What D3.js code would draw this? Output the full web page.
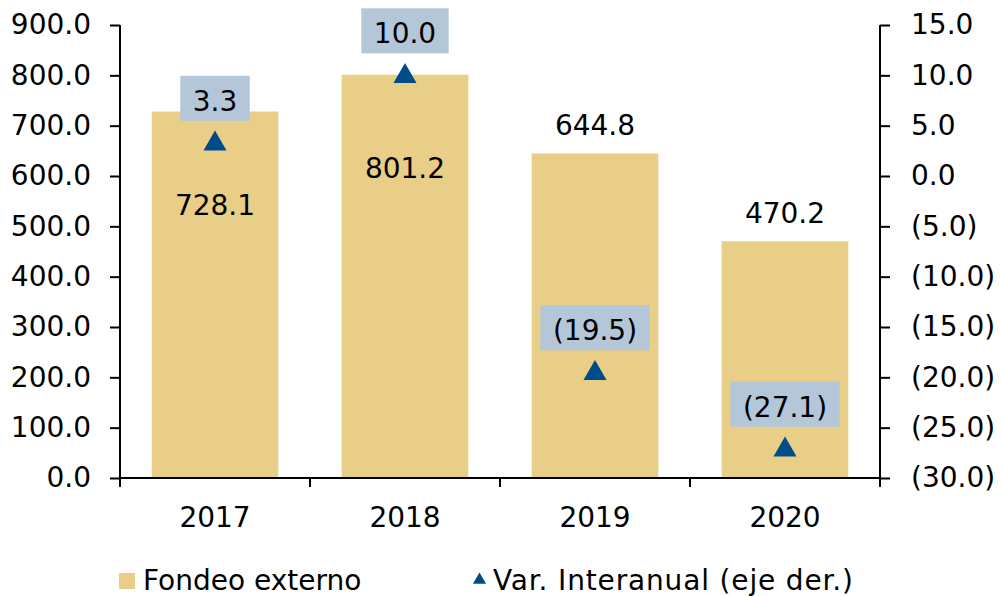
<!DOCTYPE html>
<html lang="es">
<head>
    <meta charset="UTF-8">
    <title>Fondeo externo</title>
    <script src="https://d3js.org/d3.v7.min.js"></script>
    <style>
        body { margin: 0; background: #fff; }
        text { font-family: "DejaVu Sans", Verdana, sans-serif; fill: #000; }
    </style>
</head>
<body>
<script>
    // data
    const years = ["2017", "2018", "2019", "2020"]
    const fondeoExterno = [728.1, 801.2, 644.8, 470.2]
    const varInteranual = [3.3, 10.0, -19.5, -27.1]
    const leftTicks = [0, 100, 200, 300, 400, 500, 600, 700, 800, 900]
    const rightTicks = [-30, -25, -20, -15, -10, -5, 0, 5, 10, 15]
    const legendLabels = ["Fondeo externo", "Var. Interanual (eje der.)"]

    const barColor = "#e8ce87"
    const markerColor = "#004c88"
    const boxColor = "#b3c7d9"
    const fontSize = 28

    const width = 1002
    const height = 596
    const plotLeft = 120, plotRight = 880, plotTop = 25, plotBottom = 478

    const svg = d3.select("body")
        .append("svg")
        .attr("width", width)
        .attr("height", height)

    const x = d3.scaleBand()
        .domain(years)
        .range([plotLeft, plotRight])
        .paddingInner(1 / 3)
        .paddingOuter(1 / 6)

    const yLeft = d3.scaleLinear()
        .domain([0, 900])
        .range([plotBottom, plotTop])

    const yRight = d3.scaleLinear()
        .domain([-30, 15])
        .range([plotBottom, plotTop])

    const fmt = d3.format(".1f")
    const fmtParen = d => d < 0 ? "(" + fmt(Math.abs(d)) + ")" : fmt(d)

    // bars
    svg.selectAll("rect.bar")
        .data(fondeoExterno)
        .enter()
        .append("rect")
        .attr("class", "bar")
        .attr("x", (d, i) => x(years[i]))
        .attr("y", d => yLeft(d))
        .attr("width", x.bandwidth())
        .attr("height", d => plotBottom - yLeft(d))
        .attr("fill", barColor)

    // axes
    const leftAxis = svg.append("g")
        .attr("transform", `translate(${plotLeft}, 0)`)
        .call(d3.axisLeft(yLeft).tickValues(leftTicks).tickSize(10).tickPadding(19).tickFormat(fmt))

    const rightAxis = svg.append("g")
        .attr("transform", `translate(${plotRight}, 0)`)
        .call(d3.axisRight(yRight).tickValues(rightTicks).tickSize(10).tickPadding(21).tickFormat(fmtParen))

    // x axis: labels centred under bars, ticks on category boundaries
    const bottomAxis = svg.append("g")
        .attr("transform", `translate(0, ${plotBottom})`)
        .call(d3.axisBottom(x).tickSize(0).tickPadding(29))

    bottomAxis.selectAll(".tick line").remove()

    const step = x.step()
    const bounds = d3.range(years.length + 1).map(i => plotLeft + i * step)
    bottomAxis.selectAll("line.bound")
        .data(bounds)
        .enter()
        .append("line")
        .attr("class", "bound")
        .attr("x1", d => d)
        .attr("x2", d => d)
        .attr("y1", 0)
        .attr("y2", 9)
        .attr("stroke", "#000")
        .attr("stroke-width", 2)

    ;[leftAxis, rightAxis, bottomAxis].forEach(g => {
        g.select(".domain").attr("stroke", "#000").attr("stroke-width", 2)
        g.selectAll(".tick line").attr("stroke", "#000").attr("stroke-width", 2)
        g.selectAll("text")
            .attr("font-size", fontSize)
            .style("font-family", "'DejaVu Sans', Verdana, sans-serif")
            .attr("fill", "#000")
    })
    leftAxis.select(".domain").attr("d", `M0,${plotTop}V${plotBottom}`)
    rightAxis.select(".domain").attr("d", `M0,${plotTop}V${plotBottom}`)
    bottomAxis.select(".domain").attr("d", `M${plotLeft},0H${plotRight}`)

    // triangle labels (boxes) first, so that bar labels can avoid them
    const boxes = varInteranual.map((d, i) => {
        const cx = x(years[i]) + x.bandwidth() / 2
        const cy = yRight(d)
        return { cx, cy, text: fmtParen(d) }
    })

    const boxGroup = svg.append("g")
    boxes.forEach(b => {
        const t = boxGroup.append("text")
            .attr("x", b.cx)
            .attr("y", b.cy - 32)
            .attr("text-anchor", "middle")
            .attr("font-size", fontSize)
            .text(b.text)
        const w = t.node().getComputedTextLength() + 25
        boxGroup.insert("rect", "text")
            .attr("x", b.cx - w / 2)
            .attr("y", b.cy - 67)
            .attr("width", w)
            .attr("height", 45)
            .attr("fill", boxColor)
        b.top = b.cy - 67
        b.bottom = b.cy - 22
    })

    // bar value labels: above the bar, or inside when the box is in the way
    svg.selectAll("text.barlabel")
        .data(fondeoExterno)
        .enter()
        .append("text")
        .attr("class", "barlabel")
        .attr("x", (d, i) => x(years[i]) + x.bandwidth() / 2)
        .attr("y", (d, i) => {
            const barTop = yLeft(d)
            const above = barTop - 18
            const b = boxes[i]
            const clash = above > b.top && above - 22 < b.bottom
            return clash ? barTop + 103 : above
        })
        .attr("text-anchor", "middle")
        .attr("font-size", fontSize)
        .text(d => fmt(d))

    // triangle markers
    const tri = d3.symbol().type(d3.symbolTriangle).size(230)
    svg.selectAll("path.marker")
        .data(varInteranual)
        .enter()
        .append("path")
        .attr("class", "marker")
        .attr("transform", (d, i) => `translate(${x(years[i]) + x.bandwidth() / 2}, ${yRight(d) + 1})`)
        .attr("d", tri)
        .attr("fill", markerColor)

    // legend
    const legend = svg.append("g")
    legend.append("rect")
        .attr("x", 119)
        .attr("y", 573)
        .attr("width", 16)
        .attr("height", 16)
        .attr("fill", barColor)
    legend.append("text")
        .attr("x", 143)
        .attr("y", 590)
        .attr("font-size", fontSize)
        .text(legendLabels[0])
    legend.append("path")
        .attr("transform", "translate(479.5, 580)")
        .attr("d", d3.symbol().type(d3.symbolTriangle).size(75))
        .attr("fill", markerColor)
    // the original font (Verdana) runs wider than DejaVu here
    legend.append("text")
        .attr("x", 493)
        .attr("y", 590)
        .attr("font-size", fontSize)
        .attr("textLength", 360)
        .attr("lengthAdjust", "spacing")
        .text(legendLabels[1])
</script>
</body>
</html>
